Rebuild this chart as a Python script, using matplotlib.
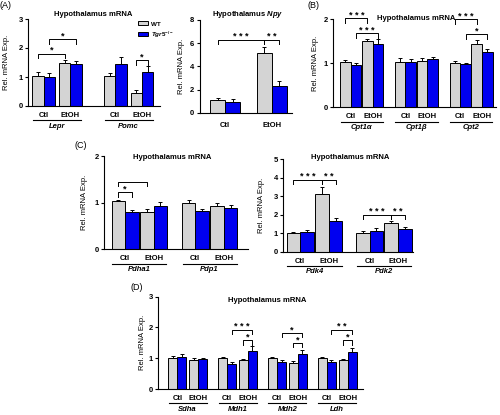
import matplotlib
matplotlib.use('Agg')
import matplotlib.pyplot as plt
from matplotlib.patches import Patch
from matplotlib.transforms import offset_copy

plt.rcParams['font.family'] = 'Liberation Sans'
plt.rcParams['font.weight'] = 'bold'
plt.rcParams['font.size'] = 5.5
plt.rcParams['mathtext.fontset'] = 'custom'
plt.rcParams['mathtext.rm'] = 'Liberation Sans:bold'
plt.rcParams['mathtext.it'] = 'Liberation Sans:italic:bold'

W, H = 500, 415
GRAY = '#d4d4d4'
BLUE = '#0000f0'

# bar order in every gene: Ctl WT, Ctl Tgr5-/-, EtOH WT, EtOH Tgr5-/-
treatments = ['Ctl', 'EtOH']

# (A) left
a1_genes = ['Lepr', 'Pomc']
a1_mean = [[1.02, 1.00, 1.49, 1.46], [1.02, 1.45, 0.46, 1.17]]
a1_sem = [[0.15, 0.15, 0.11, 0.10], [0.13, 0.24, 0.10, 0.20]]
a1_sig = [(0, 0, 2, 1.81, '*'), (0, 1, 3, 2.30, '*'), (1, 2, 3, 1.58, '*')]

# (A) right, Npy
npy_mean = [[1.10, 0.90, 5.13, 2.30]]
npy_sem = [[0.20, 0.28, 0.52, 0.44]]
npy_sig = [(0, 0, 2, 6.28, '***'), (0, 2, 3, 6.28, '**')]

# (B)
b_genes = ['Cpt1\u03b1', 'Cpt1\u03b2', 'Cpt2']
b_mean = [[1.02, 0.96, 1.51, 1.43], [1.02, 1.03, 1.06, 1.09], [1.01, 0.97, 1.43, 1.25]]
b_sem = [[0.05, 0.05, 0.03, 0.11], [0.09, 0.06, 0.06, 0.06], [0.05, 0.04, 0.09, 0.06]]
b_sig = [(0, 0, 2, 2.02, '***'), (0, 1, 3, 1.68, '***'),
         (2, 0, 2, 2.00, '***'), (2, 1, 3, 1.66, '*')]

# (C) left
c1_genes = ['Pdha1', 'Pdp1']
c1_mean = [[1.04, 0.80, 0.81, 0.92], [1.00, 0.83, 0.92, 0.89]]
c1_sem = [[0.02, 0.05, 0.05, 0.10], [0.06, 0.03, 0.08, 0.07]]
c1_sig = [(0, 0, 2, 1.45, ''), (0, 0, 1, 1.22, '*')]

# (C) right
c2_genes = ['Pdk4', 'Pdk2']
c2_mean = [[0.99, 1.06, 3.09, 1.65], [0.99, 1.13, 1.56, 1.20]]
c2_sem = [[0.07, 0.11, 0.41, 0.18], [0.11, 0.17, 0.09, 0.13]]
c2_sig = [(0, 0, 2, 3.87, '***'), (0, 2, 3, 3.87, '**'),
          (1, 0, 2, 1.98, '***'), (1, 2, 3, 1.98, '**')]

# (D)
d_genes = ['Sdha', 'Mdh1', 'Mdh2', 'Ldh']
d_mean = [[1.00, 1.05, 0.93, 0.98], [1.00, 0.80, 0.94, 1.25],
          [1.00, 0.87, 0.86, 1.13], [1.00, 0.87, 0.93, 1.21]]
d_sem = [[0.07, 0.09, 0.08, 0.03], [0.03, 0.09, 0.04, 0.15],
         [0.04, 0.07, 0.06, 0.14], [0.03, 0.08, 0.03, 0.13]]
d_sig = [(1, 1, 3, 1.92, '***'), (1, 2, 3, 1.59, '*'),
         (2, 1, 3, 1.83, '*'), (2, 2, 3, 1.50, '*'),
         (3, 1, 3, 1.92, '**'), (3, 2, 3, 1.59, '*')]

fig = plt.figure(figsize=(W / 100, H / 100), dpi=100)


def px_rect(x0, y0, x1, y1):
    return [x0 / W, 1 - y1 / H, (x1 - x0) / W, (y1 - y0) / H]


def bar_x(n, pair_gap, gene_gap):
    xs = []
    for i in range(n):
        b = i * (4 + pair_gap + gene_gap)
        xs.append([b + 0.5, b + 1.5, b + 2.5 + pair_gap, b + 3.5 + pair_gap])
    return xs


def below(ax, dy):
    return offset_copy(ax.get_xaxis_transform(), fig=fig, y=-dy, units='dots')


def panel(rect, means, sems, ymax, yticks, pair_gap, gene_gap, lpad, rpad,
          ylab_dx, sig, genes=None, title='Hypothalamus mRNA', title_xy=None):
    ax = fig.add_axes(px_rect(*rect))
    xs = bar_x(len(means), pair_gap, gene_gap)
    for x4, m4, s4 in zip(xs, means, sems):
        ax.bar(x4, m4, width=1, color=[GRAY, BLUE, GRAY, BLUE],
               edgecolor='black', linewidth=0.7, zorder=2)
        ax.errorbar(x4, m4, yerr=[[0] * 4, s4], fmt='none', ecolor='black',
                    elinewidth=0.7, capsize=1.6, capthick=0.7, zorder=3)
    ax.set_xlim(-lpad, xs[-1][3] + 0.5 + rpad)
    ax.set_ylim(0, ymax)
    ax.set_yticks(yticks)
    ax.set_xticks([])
    for s in ['top', 'right']:
        ax.spines[s].set_visible(False)
    for s in ['left', 'bottom']:
        ax.spines[s].set_linewidth(0.8)
    ax.tick_params(axis='y', length=2.5, width=0.8, pad=1.5, labelsize=5.5)
    ax.set_ylabel('Rel. mRNA Exp.', fontsize=5.5)
    wpx = rect[2] - rect[0]
    ax.yaxis.set_label_coords(-ylab_dx / wpx, 0.5)

    # significance brackets
    hpx = rect[3] - rect[1]
    drop = 4.5 * ymax / hpx
    for g, a, b, y, txt in sig:
        xa, xb = xs[g][a], xs[g][b]
        ax.plot([xa, xa, xb, xb], [y - drop, y, y, y - drop], color='black',
                lw=0.7, clip_on=False, zorder=4)
        if txt:
            ax.annotate(' '.join(txt), ((xa + xb) / 2, y), xytext=(0, 0.5),
                        textcoords='offset pixels', ha='center', va='baseline',
                        fontsize=6.5, annotation_clip=False)

    # category labels under the axis
    for x4 in xs:
        ax.text((x4[0] + x4[1]) / 2, 0, treatments[0], transform=below(ax, 9.5),
                ha='center', va='center')
        ax.text((x4[2] + x4[3]) / 2, 0, treatments[1], transform=below(ax, 9.5),
                ha='center', va='center')
    if genes is not None:
        for x4, gname in zip(xs, genes):
            ax.plot([x4[0] - 0.45, x4[3] + 0.45], [0, 0], color='black', lw=0.8,
                    transform=below(ax, 14.3), clip_on=False)
            ax.text((x4[0] + x4[3]) / 2, 0, gname, transform=below(ax, 20),
                    ha='center', va='center', style='italic')
    if title_xy is not None:
        fig.text(title_xy[0] / W, 1 - title_xy[1] / H, title, ha='center',
                 va='center', fontsize=5.5)
    return ax


ax_a1 = panel((28.3, 19, 160, 106), a1_mean, a1_sem, 3, [0, 1, 2, 3], 0.38, 2.0,
              0.36, 0.6, 18, a1_sig, genes=a1_genes, title_xy=(93, 15))

ax_npy = panel((200, 20, 291.7, 112.7), npy_mean, npy_sem, 8, [0, 2, 4, 6, 8], 1.07,
               0, 0.67, 0.33, 15, npy_sig, title='Hypothalamus $\\mathit{Npy}$',
               title_xy=(248, 15))
# Npy labels sit a bit lower and are not underlined
for t in ax_npy.texts:
    t.set_transform(below(ax_npy, 12.5))

panel((333.3, 19, 496, 107.3), b_mean, b_sem, 2, [0, 1, 2], 0.06, 1.08,
      0.63, 0.3, 14, b_sig, genes=b_genes, title_xy=(416, 18))

panel((104.3, 156, 248, 249.3), c1_mean, c1_sem, 2, [0, 1, 2], 0.13, 1.1,
      0.55, 0.8, 16, c1_sig, genes=c1_genes, title_xy=(172, 157))

panel((283.3, 159, 413, 251.7), c2_mean, c2_sem, 5, [0, 1, 2, 3, 4, 5], 0.1, 1.0,
      0.25, 0.1, 18, c2_sig, genes=c2_genes, title_xy=(350, 157))

panel((158.3, 296.7, 363.3, 389), d_mean, d_sem, 3, [0, 1, 2, 3], 0.28, 1.2,
      1.09, 0.72, 12, d_sig, genes=d_genes, title_xy=(267, 301))

# legend
handles = [Patch(facecolor=GRAY, edgecolor='black', linewidth=0.7),
           Patch(facecolor=BLUE, edgecolor='black', linewidth=0.7)]
fig.legend(handles, ['WT', '$\\mathit{Tgr5}^{-/-}$'], loc='upper left',
           bbox_to_anchor=(134 / W, 1 - 17 / H), frameon=False, fontsize=4.5,
           handlelength=1.6, handleheight=0.6, handletextpad=0.4,
           labelspacing=0.45, borderpad=0.2)

# panel letters
for letter, (x, y) in zip(['(A)', '(B)', '(C)', '(D)'],
                          [(6, 5), (314, 5.5), (81, 146), (137, 287.5)]):
    fig.text(x / W, 1 - y / H, letter, ha='center', va='center', fontsize=6.5,
             fontweight='normal')

fig.savefig('out.png', dpi=100)
